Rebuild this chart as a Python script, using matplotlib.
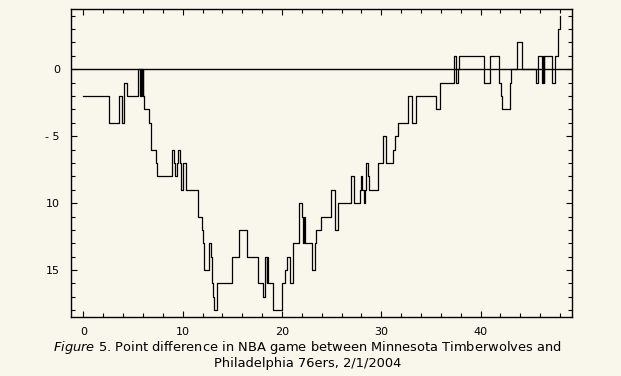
import numpy as np
import matplotlib.pyplot as plt
from matplotlib.ticker import MultipleLocator, FixedLocator

# game minute at which the score difference changes, and the new difference
minutes = [0, 2.62, 3.63, 3.86, 4.1, 4.37, 5.54, 5.7, 5.8, 5.9, 6.0, 6.04, 6.14, 6.65,
           6.85, 7.29, 7.39, 8.97, 9.17, 9.24, 9.44, 9.57, 9.77, 9.84, 10.07, 10.34,
           11.58, 11.92, 12.09, 12.19, 12.6, 12.83, 12.93, 13.03, 13.13, 13.43, 15.0,
           15.65, 16.5, 17.6, 18.1, 18.3, 18.46, 18.53, 18.6, 19.13, 20.0, 20.34, 20.5,
           20.8, 21.08, 21.75, 22.05, 22.15, 22.25, 22.35, 23.0, 23.33, 23.4, 23.94,
           24.9, 25.3, 25.6, 27.0, 27.3, 27.87, 27.97, 28.1, 28.27, 28.32, 28.47, 28.7,
           28.8, 29.7, 30.15, 30.5, 31.2, 31.4, 31.7, 32.7, 33.1, 33.5, 35.55, 35.9,
           37.36, 37.56, 37.75, 37.85, 40.38, 40.9, 41.9, 42.1, 42.2, 43.0, 43.1, 43.7,
           44.2, 45.6, 45.8, 46.2, 46.3, 46.35, 46.4, 47.2, 47.5, 47.75, 47.8, 48.0]
diff = [-2, -4, -2, -4, -1, -2, 0, -2, 0, -2, 0, -2, -3, -4,
        -6, -7, -8, -6, -7, -8, -7, -6, -7, -9, -7, -9,
        -11, -12, -13, -15, -13, -14, -16, -17, -18, -16, -14,
        -12, -14, -16, -17, -14, -16, -14, -16, -18, -16, -15, -14,
        -16, -13, -10, -11, -13, -11, -13, -15, -13, -12, -11,
        -9, -12, -10, -8, -10, -9, -8, -9, -10, -9, -7, -8,
        -9, -7, -5, -7, -6, -5, -4, -2, -4, -2, -3, -1,
        1, -1, 0, 1, -1, 1, -1, -2, -3, -1, 0, 2,
        0, -1, 1, -1, 1, -1, 1, -1, 1, 2, 3, 4]

xtick_vals = [0, 10, 20, 30, 40]
ytick_vals = [0, -5, -10, -15]
ytick_text = ['0', '- 5', '10', '15']

bg = '#F9F6EC'
fig = plt.figure(figsize=(6.21, 3.76), dpi=100, facecolor=bg)
ax = fig.add_axes([0.1143, 0.157, 0.8067, 0.819], facecolor=bg)

ax.step(minutes, diff, where='post', color='black', lw=0.9)
ax.axhline(0, color='black', lw=1.0)

ax.set_xlim(-1.25, 49.2)
ax.set_ylim(-18.5, 4.5)

ax.xaxis.set_major_locator(FixedLocator(xtick_vals))
ax.xaxis.set_minor_locator(MultipleLocator(2))
ax.yaxis.set_major_locator(FixedLocator(ytick_vals))
ax.yaxis.set_minor_locator(MultipleLocator(1))
ax.set_yticklabels(ytick_text)

ax.tick_params(which='both', direction='in', top=True, right=True, color='black',
               labelsize=8, width=0.8)
ax.tick_params(which='major', length=4)
ax.tick_params(which='minor', length=3)
ax.tick_params(axis='x', pad=7)
ax.tick_params(axis='y', pad=8)
for s in ax.spines.values():
    s.set_linewidth(1.0)

fig.text(0.495, 0.0745,
         r'$\it{Figure\ 5}$. Point difference in NBA game between Minnesota Timberwolves and',
         ha='center', va='center', fontsize=9.4)
fig.text(0.495, 0.033, 'Philadelphia 76ers, 2/1/2004',
         ha='center', va='center', fontsize=9.4)

fig.savefig('out.png', dpi=100, facecolor=bg)
